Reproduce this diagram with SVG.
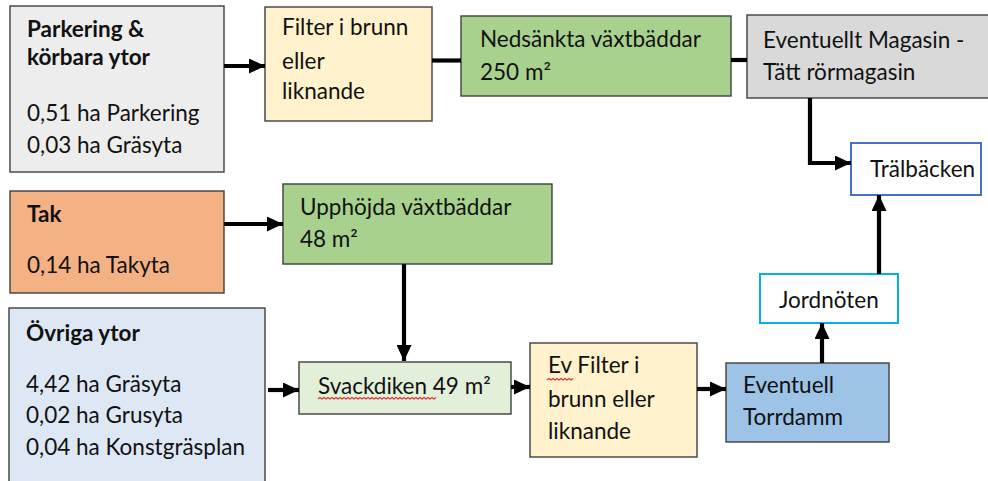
<svg xmlns="http://www.w3.org/2000/svg" width="988" height="481" viewBox="0 0 988 481">
<style>
  .box { stroke: #3f3f3f; stroke-width: 1.4; }
  .t { font-family: Lato, "Liberation Sans", sans-serif; font-size: 22.5px; fill: #111; }
  .b { font-weight: bold; }
  .c { stroke: #000; stroke-width: 4.2; fill: none; }
  .sq { stroke: #e03030; stroke-width: 1.1; fill: none; }
</style>
<defs>
  <marker id="ah" markerUnits="userSpaceOnUse" markerWidth="17" markerHeight="15" refX="16" refY="7.5" orient="auto">
    <path d="M0,0 L16,7.5 L0,15 Z" fill="#000"/>
  </marker>
</defs>
<rect width="988" height="481" fill="#fff"/>

<g id="parkering">
  <rect class="box" x="10" y="6" width="214" height="166" fill="#ededed"/>
  <text class="t b" x="27" y="37">Parkering &amp;</text>
  <text class="t b" x="27" y="65">körbara ytor</text>
  <text class="t" x="27" y="121">0,51 ha Parkering</text>
  <text class="t" x="27" y="153">0,03 ha Gräsyta</text>
</g>
<g id="filter">
  <rect class="box" x="265" y="7" width="167" height="114" fill="#fff2cc"/>
  <text class="t" x="282" y="35">Filter i brunn</text>
  <text class="t" x="282" y="69">eller</text>
  <text class="t" x="282" y="99">liknande</text>
</g>
<g id="nedsankta">
  <rect class="box" x="461" y="16" width="270" height="80" fill="#a9d18e"/>
  <text class="t" x="480" y="47">Nedsänkta växtbäddar</text>
  <text class="t" x="480" y="80">250 m²</text>
</g>
<g id="magasin">
  <rect class="box" x="747" y="15" width="250" height="83" fill="#d9d9d9"/>
  <text class="t" x="763" y="48">Eventuellt Magasin -</text>
  <text class="t" x="763" y="80">Tätt rörmagasin</text>
</g>
<g id="tralbacken">
  <rect x="851" y="143" width="130" height="52" fill="#fff" stroke="#4472c4" stroke-width="2"/>
  <text class="t" x="870" y="177">Trälbäcken</text>
</g>
<g id="tak">
  <rect class="box" x="10" y="191" width="214" height="102" fill="#f4b183"/>
  <text class="t b" x="27" y="222">Tak</text>
  <text class="t" x="27" y="273">0,14 ha Takyta</text>
</g>
<g id="upphojda">
  <rect class="box" x="283" y="184" width="269" height="80" fill="#a9d18e"/>
  <text class="t" x="300" y="215">Upphöjda växtbäddar</text>
  <text class="t" x="300" y="247">48 m²</text>
</g>
<g id="ovriga">
  <rect class="box" x="9" y="308" width="256" height="185" fill="#dee8f5"/>
  <text class="t b" x="26" y="341">Övriga ytor</text>
  <text class="t" x="26" y="392">4,42 ha Gräsyta</text>
  <text class="t" x="26" y="423">0,02 ha Grusyta</text>
  <text class="t" x="26" y="455">0,04 ha Konstgräsplan</text>
</g>
<g id="svackdiken">
  <rect class="box" x="299" y="362" width="212" height="52" fill="#e2f0d9"/>
  <text class="t" x="318" y="394">Svackdiken 49 m²</text>
  <path class="sq" d="M318,399 l2,-1.5 l2,1.5 l2,-1.5 l2,1.5 l2,-1.5 l2,1.5 l2,-1.5 l2,1.5 l2,-1.5 l2,1.5 l2,-1.5 l2,1.5 l2,-1.5 l2,1.5 l2,-1.5 l2,1.5 l2,-1.5 l2,1.5 l2,-1.5 l2,1.5 l2,-1.5 l2,1.5 l2,-1.5 l2,1.5 l2,-1.5 l2,1.5 l2,-1.5 l2,1.5 l2,-1.5 l2,1.5 l2,-1.5 l2,1.5 l2,-1.5 l2,1.5 l2,-1.5 l2,1.5 l2,-1.5 l2,1.5 l2,-1.5 l2,1.5 l2,-1.5 l2,1.5 l2,-1.5 l2,1.5 l2,-1.5 l2,1.5 l2,-1.5 l2,1.5 l2,-1.5 l2,1.5 l2,-1.5 l2,1.5 l2,-1.5 l2,1.5 l2,-1.5 l2,1.5 l2,-1.5 l2,1.5 l2,-1.5"/>
</g>
<g id="evfilter">
  <rect class="box" x="530" y="343" width="167" height="114" fill="#fff2cc"/>
  <text class="t" x="548" y="373">Ev Filter i</text>
  <text class="t" x="548" y="407">brunn eller</text>
  <text class="t" x="548" y="439">liknande</text>
  <path class="sq" d="M547,380 l2,-1.5 l2,1.5 l2,-1.5 l2,1.5 l2,-1.5 l2,1.5 l2,-1.5 l2,1.5 l2,-1.5 l2,1.5 l2,-1.5 l2,1.5 l2,-1.5"/>
</g>
<g id="torrdamm">
  <rect class="box" x="726" y="363" width="163" height="79" fill="#9dc3e6"/>
  <text class="t" x="743" y="393">Eventuell</text>
  <text class="t" x="743" y="425">Torrdamm</text>
</g>
<g id="jordnoten">
  <rect x="760" y="274" width="138" height="49" fill="#fff" stroke="#00b0f0" stroke-width="2"/>
  <text class="t" x="779" y="308">Jordnöten</text>
</g>

<g id="connectors">
  <line class="c" x1="224" y1="66" x2="265" y2="66" marker-end="url(#ah)"/>
  <line class="c" x1="432" y1="60.5" x2="461" y2="60.5"/>
  <line class="c" x1="731" y1="60" x2="747" y2="60"/>
  <path class="c" d="M810,98 V163 H851" marker-end="url(#ah)"/>
  <line class="c" x1="224" y1="224" x2="283" y2="224" marker-end="url(#ah)"/>
  <line class="c" x1="404" y1="264" x2="404" y2="361" marker-end="url(#ah)"/>
  <line class="c" x1="268" y1="390" x2="299" y2="390" marker-end="url(#ah)"/>
  <line class="c" x1="511" y1="387" x2="530" y2="387" marker-end="url(#ah)"/>
  <line class="c" x1="697" y1="389" x2="726" y2="389" marker-end="url(#ah)"/>
  <line class="c" x1="822" y1="363" x2="822" y2="323" marker-end="url(#ah)"/>
  <line class="c" x1="879" y1="274" x2="879" y2="195" marker-end="url(#ah)"/>
</g>
</svg>
